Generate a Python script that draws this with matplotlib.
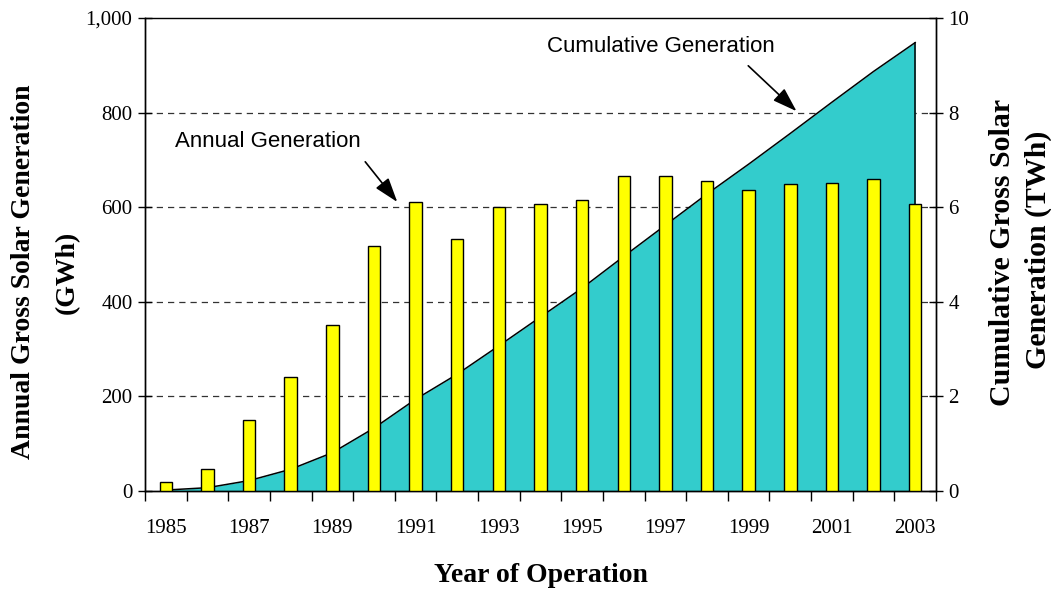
import numpy as np
import matplotlib.pyplot as plt
from matplotlib.ticker import FuncFormatter

years = list(range(1985, 2004))
annual_gwh = [19, 47, 150, 242, 350, 517, 612, 532, 600, 607,
              616, 665, 665, 655, 636, 650, 652, 659, 607]
cumulative_twh = [0.02, 0.07, 0.22, 0.46, 0.81, 1.33, 1.94, 2.47, 3.07, 3.68,
                  4.29, 4.96, 5.62, 6.28, 6.91, 7.56, 8.22, 8.87, 9.48]
tick_labels = [str(y) if (y - 1985) % 2 == 0 else '' for y in years]

serif = ['Liberation Serif', 'DejaVu Serif']
sans = ['Liberation Sans', 'DejaVu Sans']

fig = plt.figure(figsize=(10.51, 5.90), dpi=100)
ax = fig.add_axes([145 / 1051, 99 / 590, 791 / 1051, 473 / 590])
ax2 = ax.twinx()
ax.set_zorder(ax2.get_zorder() + 1)
ax.patch.set_visible(False)

x = np.arange(len(years))

# cumulative area (right axis), behind the bars
ax2.fill_between(x, 0, cumulative_twh, color='#33CCCC', zorder=2, linewidth=0)
ax2.plot(x, cumulative_twh, color='black', lw=1.1, zorder=3)
ax2.plot([x[-1], x[-1]], [0, cumulative_twh[-1]], color='black', lw=1.1, zorder=3)
ax2.set_ylim(0, 10)
ax2.set_yticks(range(0, 11, 2))
for v in range(2, 10, 2):
    ax2.axhline(v, color='#333333', lw=0.9, ls=(0, (5, 4)), zorder=1)

# annual bars (left axis)
ax.bar(x, annual_gwh, width=0.3, color='#FFFF00', edgecolor='black', linewidth=1.0, zorder=3)
ax.set_ylim(0, 1000)
ax.set_yticks(range(0, 1001, 200))
ax.yaxis.set_major_formatter(FuncFormatter(lambda v, p: f'{int(v):,}'))
ax.set_xlim(-0.5, len(years) - 0.5)

# category axis: tick marks between categories, labels at centres
ax.set_xticks(np.arange(-0.5, len(years), 1.0))
ax.set_xticklabels([])
ax.set_xticks(x, minor=True)
ax.set_xticklabels(tick_labels, minor=True)
ax.tick_params(axis='x', which='major', direction='out', length=7, width=1)
ax.tick_params(axis='x', which='minor', length=0, pad=20)

ax.tick_params(axis='y', direction='inout', length=10, width=1, pad=4)
ax2.tick_params(axis='y', direction='inout', length=10, width=1, pad=4)

for a in (ax, ax2):
    for lab in a.get_xticklabels(which='both') + a.get_yticklabels():
        lab.set_family(serif)
        lab.set_fontsize(15)
    for s in a.spines.values():
        s.set_linewidth(1.0)

ax.spines['top'].set_visible(False)
ax2.spines['top'].set_visible(False)
ax.axhline(1000, color='black', lw=1.0, clip_on=False)

# annotations
arrow = dict(arrowstyle='-|>,head_length=0.75,head_width=0.25',
             color='black', lw=1.2, mutation_scale=20, shrinkA=0, shrinkB=0)
ax.annotate('', xy=(5.56, 611), xytext=(4.79, 696), arrowprops=arrow)
ax.text(0.22, 738, 'Annual Generation', family=sans, fontsize=16, va='center', ha='left')
ax.annotate('', xy=(15.15, 803), xytext=(13.99, 899), arrowprops=arrow)
ax.text(9.16, 939, 'Cumulative Generation', family=sans, fontsize=16, va='center', ha='left')

# axis titles
fig.text(24 / 1051, 1 - 272 / 590, 'Annual Gross Solar Generation', rotation=90,
         family=serif, fontweight='bold', fontsize=20, ha='center', va='center')
fig.text(67 / 1051, 1 - 272 / 590, '(GWh)', rotation=90,
         family=serif, fontweight='bold', fontsize=20, ha='center', va='center')
fig.text(1002 / 1051, 1 - 252 / 590, 'Cumulative Gross Solar', rotation=90,
         family=serif, fontweight='bold', fontsize=21.5, ha='center', va='center')
fig.text(1038 / 1051, 1 - 250 / 590, 'Generation (TWh)', rotation=90,
         family=serif, fontweight='bold', fontsize=21.5, ha='center', va='center')
fig.text(541 / 1051, 1 - 576 / 590, 'Year of Operation',
         family=serif, fontweight='bold', fontsize=20, ha='center', va='center')

fig.savefig('out.png', dpi=100)
